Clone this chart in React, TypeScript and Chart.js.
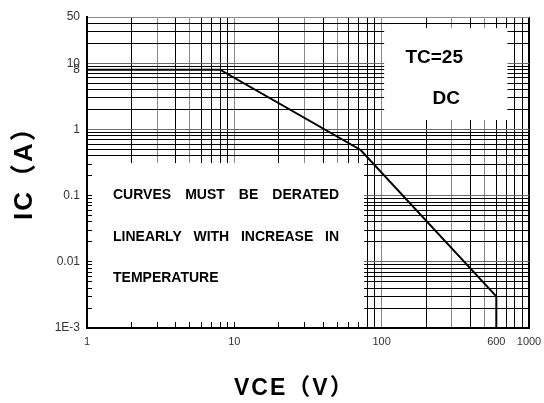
import React, { useEffect, useRef } from 'react';
import { Chart, registerables } from 'chart.js';

Chart.register(...registerables);

// ---- data ----
const VCE_V = [1, 8, 72, 600, 600];
const IC_A = [8, 8, 0.49, 0.003, 0.001];

const X_MIN = 1;
const X_MAX = 1000;
const Y_MIN = 0.001;
const Y_MAX = 50;

const X_LABEL_VALUES = [1, 10, 100, 600, 1000];
const X_LABEL_TEXT = ['1', '10', '100', '600', '1000'];
const Y_LABEL_VALUES = [50, 10, 8, 1, 0.1, 0.01, 0.001];
const Y_LABEL_TEXT = ['50', '10', '8', '1', '0.1', '0.01', '1E-3'];

const MANTISSAS = [1, 2, 3, 4, 5, 6, 7, 8, 9];
const X_DECADES = [1, 10, 100, 1000];
const Y_DECADES = [0.001, 0.01, 0.1, 1, 10];

const NOTE_LINES = ['CURVES MUST BE DERATED', 'LINEARLY WITH INCREASE IN', 'TEMPERATURE'];
const CONDITION_LINES = ['TC=25', 'DC'];

// white annotation boxes, in data coordinates
const NOTE_BOX = { x0: 1, x1: 76, y0: 0.001, y1: 0.31 };
const COND_BOX = { x0: 104, x1: 714, y0: 1.39, y1: 34 };

const X_TITLE = 'VCE（V）';
const Y_TITLE = 'IC（A）';

const clean = (v: number) => Number(v.toPrecision(6));
const X_GRID = X_DECADES.flatMap((d) => MANTISSAS.map((m) => clean(d * m))).filter((v) => v >= X_MIN && v <= X_MAX);
const Y_GRID = Y_DECADES.flatMap((d) => MANTISSAS.map((m) => clean(d * m))).filter((v) => v >= Y_MIN && v <= Y_MAX);

const near = (a: number, b: number) => Math.abs(a - b) <= Math.abs(b) * 1e-6;
const mantissaOf = (v: number) => Math.round(v / Math.pow(10, Math.floor(Math.log10(v) + 1e-9)));

const FONT = 'Arial, "Liberation Sans", "Noto Sans CJK TC", sans-serif';

const overlayPlugin = {
  id: 'overlay',
  beforeDatasetsDraw(chart: any) {
    const { ctx, chartArea: a, scales } = chart;
    const xs = scales.x;
    const ys = scales.y;
    const rect = (b: any) => {
      const l = xs.getPixelForValue(b.x0);
      const r = xs.getPixelForValue(b.x1);
      const t = ys.getPixelForValue(b.y1);
      const bt = ys.getPixelForValue(b.y0);
      return { l, r, t, b: bt };
    };
    ctx.save();
    ctx.fillStyle = '#ffffff';
    const n = rect(NOTE_BOX);
    ctx.fillRect(n.l, n.t, n.r - n.l, n.b - n.t);
    const c = rect(COND_BOX);
    ctx.fillRect(c.l, c.t, c.r - c.l, c.b - c.t);

    // inward minor ticks along the axes inside the note box
    ctx.strokeStyle = '#000';
    ctx.lineWidth = 1;
    ctx.beginPath();
    for (const v of X_GRID) {
      const px = Math.round(xs.getPixelForValue(v) - 0.5) + 0.5;
      if (px > n.l + 2 && px < n.r) {
        ctx.moveTo(px, a.bottom);
        ctx.lineTo(px, a.bottom - 6);
      }
    }
    for (const v of Y_GRID) {
      const py = Math.round(ys.getPixelForValue(v) - 0.5) + 0.5;
      if (py > n.t && py < n.b - 2) {
        ctx.moveTo(a.left, py);
        ctx.lineTo(a.left + 5, py);
      }
    }
    ctx.stroke();

    // axis lines
    ctx.lineWidth = 2;
    ctx.beginPath();
    ctx.moveTo(Math.round(a.left), a.top);
    ctx.lineTo(Math.round(a.left), Math.round(a.bottom));
    ctx.lineTo(a.right, Math.round(a.bottom));
    ctx.stroke();

    // note text (justified)
    ctx.fillStyle = '#000';
    ctx.font = 'bold 14px ' + FONT;
    ctx.textBaseline = 'middle';
    ctx.textAlign = 'left';
    const left = a.left + 26;
    const width = 226;
    const lineY = [a.top + 178, a.top + 220, a.top + 261];
    NOTE_LINES.forEach((line, i) => {
      const words = line.split(' ');
      const ws = words.map((w) => ctx.measureText(w).width);
      const sum = ws.reduce((s, w) => s + w, 0);
      const last = i === NOTE_LINES.length - 1;
      const gap = last || words.length < 2 ? ctx.measureText(' ').width : (width - sum) / (words.length - 1);
      let x = left;
      words.forEach((w, k) => {
        ctx.fillText(w, x, lineY[i]);
        x += ws[k] + gap;
      });
    });

    // condition text
    ctx.font = 'bold 19px ' + FONT;
    ctx.textAlign = 'center';
    ctx.fillText(CONDITION_LINES[0], c.l + 50, c.t + 30);
    ctx.fillText(CONDITION_LINES[1], c.l + 62, c.t + 71);
    ctx.restore();
  },
  afterDraw(chart: any) {
    const { ctx } = chart;
    ctx.save();
    ctx.fillStyle = '#000';
    ctx.textBaseline = 'alphabetic';
    ctx.textAlign = 'left';
    try {
      (ctx as any).letterSpacing = '2px';
    } catch (e) {}
    ctx.font = 'bold 23px ' + FONT;
    ctx.fillText(X_TITLE, 234, 395);
    ctx.translate(32, 220);
    ctx.rotate(-Math.PI / 2);
    ctx.font = 'bold 26px ' + FONT;
    ctx.fillText(Y_TITLE, 0, 0);
    ctx.restore();
  },
};

export default function App() {
  const ref = useRef<HTMLCanvasElement | null>(null);
  useEffect(() => {
    if (!ref.current) return;
    Chart.defaults.font.family = FONT;
    const chart = new Chart(ref.current, {
      type: 'line',
      data: {
        datasets: [
          {
            data: VCE_V.map((v, i) => ({ x: v, y: IC_A[i] })),
            borderColor: '#000',
            borderWidth: 2,
            pointRadius: 0,
            tension: 0,
            fill: false,
          },
        ],
      },
      options: {
        responsive: false,
        animation: false,
        devicePixelRatio: 1,
        layout: { padding: { left: 0, top: 17, right: 15, bottom: 0 } },
        plugins: { legend: { display: false }, tooltip: { enabled: false }, title: { display: false } },
        scales: {
          x: {
            type: 'logarithmic',
            min: X_MIN,
            max: X_MAX,
            afterBuildTicks: (s: any) => {
              s.ticks = X_GRID.map((v) => ({ value: v }));
            },
            afterFit: (s: any) => {
              s.height = 75;
              s.paddingLeft = 0;
              s.paddingRight = 0;
            },
            ticks: {
              autoSkip: false,
              maxRotation: 0,
              padding: 7,
              color: '#333',
              font: { size: 11 },
              callback: (value: any) => {
                const idx = X_LABEL_VALUES.findIndex((v) => near(Number(value), v));
                return idx >= 0 ? X_LABEL_TEXT[idx] : '';
              },
            },
            grid: {
              drawTicks: false,
              color: (ctx: any) => {
                const v = ctx.tick ? ctx.tick.value : 0;
                if (near(v, X_MAX)) return '#000';
                const m = mantissaOf(v);
                return m === 1 || m === 3 || m === 5 ? '#8a8a8a' : '#000';
              },
              lineWidth: (ctx: any) => (ctx.tick && near(ctx.tick.value, X_MAX) ? 2 : 1),
            },
            border: { display: true, color: '#000', width: 2 },
          },
          y: {
            type: 'logarithmic',
            min: Y_MIN,
            max: Y_MAX,
            afterBuildTicks: (s: any) => {
              s.ticks = Y_GRID.map((v) => ({ value: v }));
            },
            afterFit: (s: any) => {
              s.width = 87;
              s.paddingTop = 0;
              s.paddingBottom = 0;
            },
            ticks: {
              autoSkip: false,
              padding: 7,
              color: '#333',
              font: { size: 12 },
              callback: (value: any) => {
                const idx = Y_LABEL_VALUES.findIndex((v) => near(Number(value), v));
                return idx >= 0 ? Y_LABEL_TEXT[idx] : '';
              },
            },
            grid: {
              drawTicks: false,
              color: (ctx: any) => {
                const v = ctx.tick ? ctx.tick.value : 0;
                if (near(v, Y_MAX)) return '#8a8a8a';
                const m = mantissaOf(v);
                return m === 1 ? '#6a6a6a' : '#000';
              },
              lineWidth: 1,
            },
            border: { display: true, color: '#000', width: 2 },
          },
        },
      },
      plugins: [overlayPlugin],
    } as any);
    return () => chart.destroy();
  }, []);
  return (
    <div style={{ position: 'absolute', left: 0, top: 0, width: 544, height: 403, background: '#fff' }}>
      <canvas ref={ref} width={544} height={403} />
    </div>
  );
}
